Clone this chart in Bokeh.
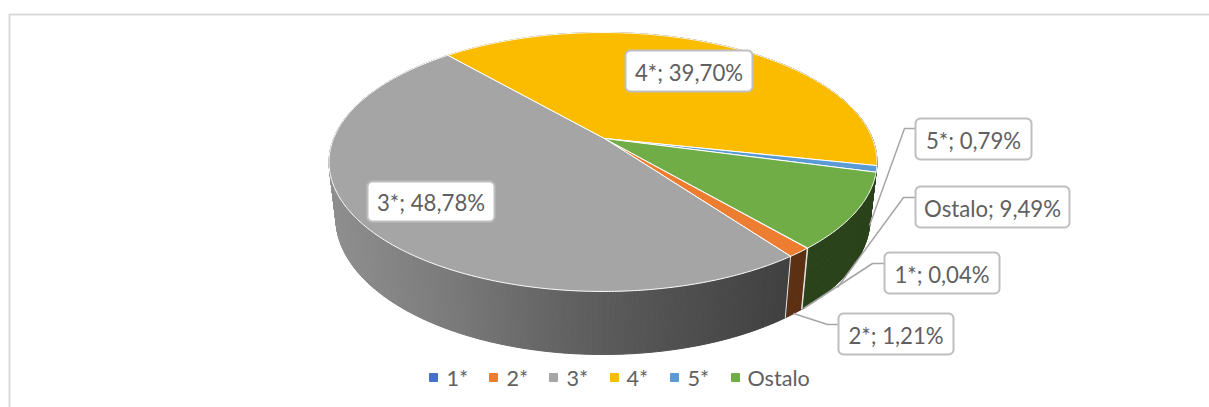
import numpy as np
from bokeh.plotting import figure
from bokeh.models import ColumnDataSource
from bokeh.core.properties import value
from bokeh.embed import file_html
from bokeh.resources import INLINE

categories = ["1*", "2*", "3*", "4*", "5*", "Ostalo"]
shares = [0.04, 1.21, 48.78, 39.70, 0.79, 9.49]
share_labels = ["0,04%", "1,21%", "48,78%", "39,70%", "0,79%", "9,49%"]
colors = ["#4472C4", "#ED7D31", "#A5A5A5", "#FBBC00", "#5B9BD5", "#70AD47"]

W, H = 1209, 407
FONT = "Lato"
FS = "22.2px"
LEG_FS = "21.6px"
TXT = "#606060"

# perspective model of the tilted disc, in page pixels
CX, CY = 602.5, 138.0
APEX_X = 604.0
A, B, K = 269.4, 125.2, 0.1815
DROP, M = 57.0, 0.025
FIRST = 139.0  # first slice angle, clockwise from the far side


def top(theta):
    t = np.radians(theta)
    u, v = np.sin(t), np.cos(t)
    d = 1 + K * v
    return CX + A * u / d, CY - B * v / d


def bottom(theta):
    t = np.radians(theta)
    u, v = np.sin(t), np.cos(t)
    d = 1 + K * v + M
    return CX + A * u / d, CY + (DROP - B * v) / d


def shade(hex_color, x):
    f = np.interp(x, [330, 450, 560, 640, 790, 1000], [0.87, 0.74, 0.60, 0.52, 0.39, 0.39])
    rgb = [int(hex_color[i:i + 2], 16) for i in (1, 3, 5)]
    return "#%02x%02x%02x" % tuple(int(c * f) for c in rgb)


def rounded(x0, y0, x1, y1, r=5):
    xs, ys = [], []
    for cx, cy, a0 in [(x1 - r, y0 + r, -90), (x1 - r, y1 - r, 0), (x0 + r, y1 - r, 90), (x0 + r, y0 + r, 180)]:
        a = np.radians(np.linspace(a0, a0 + 90, 7))
        xs += list(cx + r * np.cos(a))
        ys += list(cy + r * np.sin(a))
    return xs, ys


p = figure(width=W, height=H, x_range=(0, W), y_range=(H, 0),
           x_axis_type=None, y_axis_type=None, toolbar_location=None,
           output_backend="svg", min_border=0, outline_line_color=None,
           background_fill_color="white", border_fill_color="white")
p.grid.visible = False

# chart-area frame (left and top only are visible in the crop)
p.multi_line([[9, 9, W]], [[H, 14, 14]], line_color="#d9d9d9", line_width=2)

# slice spans
edges = FIRST + np.concatenate([[0], np.cumsum(shares)]) * 3.6
spans = list(zip(edges[:-1], edges[1:]))

# side wall
sx, sy, sc = [], [], []
for (a0, a1), col in zip(spans, colors):
    n = max(2, int((a1 - a0) / 0.6) + 1)
    th = np.linspace(a0, a1, n)
    for t0, t1 in zip(th[:-1], th[1:]):
        t0x, t0y = top(t0)
        t1x, t1y = top(t1)
        b0x, b0y = bottom(t0)
        b1x, b1y = bottom(t1)
        sx.append([t0x, t1x, b1x, b0x])
        sy.append([t0y, t1y, b1y, b0y])
        sc.append(shade(col, (t0x + t1x) / 2))
p.patches("x", "y", source=ColumnDataSource(dict(x=sx, y=sy, c=sc)),
          fill_color="c", line_color="c", line_width=1)

# separators on the wall between the near slices
sep_x, sep_y = [], []
for e in [edges[0], edges[1], edges[2]]:
    tx, ty = top(e)
    bx, by = bottom(e)
    sep_x.append([tx, bx])
    sep_y.append([ty, by])
p.multi_line(sep_x, sep_y, line_color="#e4e4e4", line_width=1)

# top faces
fx, fy = [], []
for a0, a1 in spans:
    th = np.linspace(a0, a1, max(3, int((a1 - a0) / 0.5) + 1))
    rx, ry = top(th)
    fx.append([APEX_X] + list(rx))
    fy.append([CY] + list(ry))
p.patches("x", "y", source=ColumnDataSource(dict(x=fx, y=fy, c=colors)),
          fill_color="c", line_color="white", line_width=1)

# leader lines
lead = [
    ([915, 904, 869], [128, 128, 225]),
    ([915, 903, 837], [197, 197, 287]),
    ([884, 872, 803], [263, 263, 308]),
    ([838, 827, 793], [324, 324, 313]),
]
p.multi_line([l[0] for l in lead], [l[1] for l in lead], line_color="#a6a6a6", line_width=1.5)

# data-label boxes: category index -> box
boxes = {
    3: (625, 50, 752, 91),
    2: (367, 181, 494, 221),
    4: (915, 118, 1031, 159),
    5: (915, 186, 1069, 227),
    0: (884, 252, 999, 293),
    1: (838, 313, 953, 354),
}
bx_x, bx_y, tx_x, tx_y, tx_t = [], [], [], [], []
for i, (x0, y0, x1, y1) in boxes.items():
    xs, ys = rounded(x0, y0, x1, y1)
    bx_x.append(xs)
    bx_y.append(ys)
    tx_x.append((x0 + x1) / 2)
    tx_y.append((y0 + y1) / 2 + 1)
    tx_t.append(f"{categories[i]}; {share_labels[i]}")
p.patches(bx_x, bx_y, fill_color="white", line_color="#bfbfbf", line_width=2)
p.text(tx_x, tx_y, text=tx_t, text_font=value(FONT), text_font_size=FS, text_color=TXT,
       text_align="center", text_baseline="middle")

# legend
leg_marker_x = [433, 493, 553, 614, 674, 735]
leg_text_x = [446, 506, 566, 626, 687, 747]
p.scatter(leg_marker_x, [377] * 6, marker="square", size=8, color=colors)
p.text(leg_text_x, [377] * 6, text=categories, text_font=value(FONT), text_font_size=LEG_FS,
       text_color=TXT, text_align="left", text_baseline="middle")

open("out.html", "w").write(file_html(p, INLINE))
